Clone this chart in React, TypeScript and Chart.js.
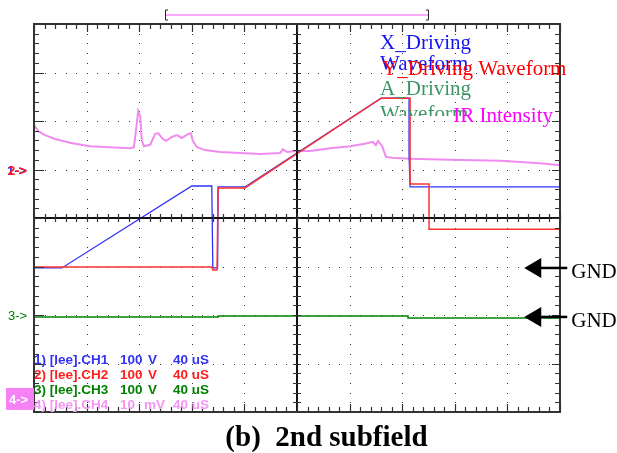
import React, { useEffect, useRef } from "react";
import { Chart, registerables } from "chart.js";

Chart.register(...registerables);

// Time axis in divisions (0..10), voltage axis in divisions (-4..4)
const X_T = [0, 0.53, 3.0, 3.38, 3.4, 3.49, 3.5, 4.01, 6.6, 7.13, 7.13, 7.15, 10];
const X_V = [-1.03, -1.03, 0.66, 0.66, -1.03, -1.03, 0.64, 0.64, 2.47, 2.47, 1.32, 0.64, 0.64];

const Y_T = [0, 3.38, 3.4, 3.48, 3.5, 4.01, 6.6, 7.15, 7.15, 7.51, 7.51, 10];
const Y_V = [-1.01, -1.01, -1.07, -1.07, 0.62, 0.62, 2.47, 2.47, 0.7, 0.7, -0.23, -0.23];

const A_T = [0, 3.5, 3.5, 7.11, 7.11, 10];
const A_V = [-2.04, -2.04, -2.02, -2.02, -2.06, -2.06];

const IR_T = [0, 0.08, 0.21, 0.4, 0.68, 1.06, 1.44, 1.83, 1.9, 1.96, 1.98, 2.02, 2.05, 2.09, 2.21, 2.3, 2.36, 2.45, 2.51, 2.62, 2.72, 2.81, 2.93, 2.98, 3.02, 3.1, 3.25, 3.54, 3.92, 4.3, 4.68, 4.73, 4.81, 5.0, 5.25, 5.63, 6.01, 6.29, 6.44, 6.5, 6.54, 6.62, 6.69, 6.81, 7.15, 7.91, 8.86, 9.62, 10];
const IR_V = [1.92, 1.79, 1.71, 1.63, 1.55, 1.48, 1.46, 1.44, 1.46, 2.0, 2.21, 2.1, 1.59, 1.48, 1.51, 1.73, 1.75, 1.63, 1.59, 1.67, 1.71, 1.65, 1.73, 1.75, 1.59, 1.46, 1.4, 1.36, 1.34, 1.32, 1.34, 1.42, 1.36, 1.38, 1.38, 1.44, 1.48, 1.53, 1.57, 1.5, 1.59, 1.48, 1.26, 1.24, 1.22, 1.2, 1.18, 1.13, 1.09];

const LEGEND_LABELS = ["X_Driving", "Waveform", "Y_Driving Waveform", "A_Driving", "Waveform", "IR Intensity"];
const CH_LABELS = [
  ["1) [lee].CH1", "100", "V", "40 uS"],
  ["2) [lee].CH2", "100", "V", "40 uS"],
  ["3) [lee].CH3", "100", "V", "40 uS"],
  ["4) [lee].CH4", "10", "mV", "40 uS"],
];
const WINDOW = [2.51, 7.49];
const GND_LEVELS = [-1.03, -2.04];
const CAPTION = "(b)  2nd subfield";

const BLUE = "rgb(50,50,245)";
const RED = "rgb(255,50,50)";
const GREEN = "rgb(0,130,0)";
const PINK = "rgb(240,140,240)";

const pts = (t: number[], v: number[]) => t.map((tt, i) => ({ x: tt, y: v[i] }));

const scopePlugin = {
  id: "scope",
  beforeDatasetsDraw(chart: any) {
    const { ctx, scales } = chart;
    const x = scales.x, y = scales.y;
    ctx.save();
    ctx.fillStyle = "#333";
    for (let i = 1; i < 10; i++) {
      if (i === 5) continue;
      const px = Math.round(x.getPixelForValue(i));
      for (let j = 0; j <= 40; j++) {
        const py = Math.round(y.getPixelForValue(-4 + j * 0.2));
        ctx.fillRect(px, py, 1, 1);
      }
    }
    for (let i = -3; i <= 3; i++) {
      if (i === 0) continue;
      const py = Math.round(y.getPixelForValue(i));
      for (let j = 0; j <= 50; j++) {
        const px = Math.round(x.getPixelForValue(j * 0.2));
        ctx.fillRect(px, py, 1, 1);
      }
    }
    ctx.restore();
  },
  afterDatasetsDraw(chart: any) {
    const { ctx, chartArea, scales } = chart;
    const { left, right, top, bottom } = chartArea;
    const x = scales.x, y = scales.y;
    ctx.save();
    // center axes
    ctx.strokeStyle = "#111";
    ctx.lineWidth = 2;
    const cy = Math.round(y.getPixelForValue(0));
    const cx = Math.round(x.getPixelForValue(5));
    ctx.beginPath();
    ctx.moveTo(left, cy); ctx.lineTo(right, cy);
    ctx.moveTo(cx, top); ctx.lineTo(cx, bottom);
    ctx.stroke();
    ctx.lineWidth = 1.2;
    ctx.beginPath();
    for (let k = 0; k <= 50; k++) {
      const px = Math.round(x.getPixelForValue(k * 0.2)) + 0.5;
      const big = k % 5 === 0;
      ctx.moveTo(px, cy - 4); ctx.lineTo(px, cy + 4);
      ctx.moveTo(px, top); ctx.lineTo(px, top + (big ? 8 : 5));
      ctx.moveTo(px, bottom); ctx.lineTo(px, bottom - (big ? 8 : 5));
    }
    for (let k = 0; k <= 40; k++) {
      const py = Math.round(y.getPixelForValue(-4 + k * 0.2)) + 0.5;
      const big = k % 5 === 0;
      ctx.moveTo(cx - 4, py); ctx.lineTo(cx + 4, py);
      ctx.moveTo(left, py); ctx.lineTo(left + (big ? 10 : 5), py);
      ctx.moveTo(right, py); ctx.lineTo(right - (big ? 8 : 5), py);
    }
    ctx.strokeStyle = "#333";
    ctx.stroke();
    // border
    ctx.lineWidth = 2;
    ctx.strokeStyle = "#333";
    ctx.strokeRect(left, top, right - left, bottom - top);

    // window bar at top
    const wx0 = x.getPixelForValue(WINDOW[0]);
    const wx1 = x.getPixelForValue(WINDOW[1]);
    const wy = top - 9;
    ctx.strokeStyle = "rgb(250,170,250)";
    ctx.lineWidth = 2;
    ctx.beginPath(); ctx.moveTo(wx0, wy); ctx.lineTo(wx1, wy); ctx.stroke();
    ctx.strokeStyle = "#222";
    ctx.lineWidth = 1;
    ctx.beginPath();
    ctx.moveTo(wx0 + 2, wy - 5); ctx.lineTo(wx0 - 0.5, wy - 5); ctx.lineTo(wx0 - 0.5, wy + 5); ctx.lineTo(wx0 + 2, wy + 5);
    ctx.moveTo(wx1 - 2, wy - 5); ctx.lineTo(wx1 + 0.5, wy - 5); ctx.lineTo(wx1 + 0.5, wy + 5); ctx.lineTo(wx1 - 2, wy + 5);
    ctx.stroke();

    // legend texts
    ctx.font = '21px "Liberation Serif"';
    ctx.textBaseline = "alphabetic";
    ctx.textAlign = "left";
    const lx = x.getPixelForValue(6.58);
    ctx.fillStyle = "rgb(20,20,240)";
    ctx.fillText(LEGEND_LABELS[0], lx, top + 25);
    ctx.fillText(LEGEND_LABELS[1], lx, top + 46);
    ctx.save();
    ctx.beginPath(); ctx.rect(0, 0, right + 11, 453); ctx.clip();
    ctx.fillStyle = "rgb(255,0,0)";
    ctx.fillText(LEGEND_LABELS[2], lx + 2, top + 51);
    ctx.restore();
    ctx.fillStyle = "rgb(60,150,100)";
    ctx.fillText(LEGEND_LABELS[3], lx, top + 71);
    ctx.save();
    ctx.beginPath(); ctx.rect(0, 0, 617, top + 92); ctx.clip();
    ctx.fillText(LEGEND_LABELS[4], lx, top + 96);
    ctx.restore();
    ctx.save();
    ctx.beginPath(); ctx.rect(0, 0, right + 2, 453); ctx.clip();
    ctx.fillStyle = "rgb(255,0,255)";
    ctx.fillText(LEGEND_LABELS[5], x.getPixelForValue(7.97), top + 98);
    ctx.restore();

    // left channel markers
    const m2 = y.getPixelForValue(1);
    ctx.font = 'bold 13px "Liberation Sans"';
    ctx.fillStyle = BLUE;
    ctx.fillText("1->", 7, m2 + 5);
    ctx.fillStyle = "rgb(255,20,20)";
    ctx.fillText("2->", 8, m2 + 5);
    const m3 = y.getPixelForValue(-2);
    ctx.font = '13px "Liberation Sans"';
    ctx.fillStyle = GREEN;
    ctx.fillText("3->", 8, m3 + 5);
    const m4 = y.getPixelForValue(-3.73);
    ctx.fillStyle = "rgb(245,130,245)";
    ctx.fillRect(6, m4 - 11, left - 6, 22);
    ctx.fillStyle = "#fff";
    ctx.font = 'bold 13px "Liberation Sans"';
    ctx.fillText("4->", 9, m4 + 5);

    // channel labels
    const chColors = [BLUE, "rgb(255,30,30)", GREEN, "rgb(245,150,245)"];
    ctx.font = 'bold 13.5px "Liberation Sans"';
    CH_LABELS.forEach((row, i) => {
      const by = 364 + i * 15;
      ctx.fillStyle = chColors[i];
      ctx.fillText(row[0], left, by);
      ctx.fillText(row[1], left + 86, by);
      ctx.fillText(row[2], row[2] === "V" ? left + 114 : left + 110, by);
      ctx.fillText(row[3], left + 139, by);
    });

    // GND arrows
    GND_LEVELS.forEach((lv) => {
      const py = y.getPixelForValue(lv);
      const tip = x.getPixelForValue(9.32);
      ctx.fillStyle = "#000";
      ctx.beginPath();
      ctx.moveTo(tip, py); ctx.lineTo(tip + 17, py - 10); ctx.lineTo(tip + 17, py + 10); ctx.closePath();
      ctx.fill();
      ctx.strokeStyle = "#000";
      ctx.lineWidth = 2.5;
      ctx.beginPath(); ctx.moveTo(tip + 15, py); ctx.lineTo(tip + 43, py); ctx.stroke();
      ctx.font = '21px "Liberation Serif"';
      ctx.fillText("GND", tip + 47, py + 10);
    });

    // caption
    ctx.fillStyle = "#000";
    ctx.font = 'bold 29px "Liberation Serif"';
    ctx.textAlign = "center";
    ctx.fillText(CAPTION, 326.5, 446);
    ctx.restore();
  },
};

export default function App() {
  const ref = useRef<HTMLCanvasElement | null>(null);
  useEffect(() => {
    if (!ref.current) return;
    const chart = new Chart(ref.current, {
      type: "scatter",
      data: {
        datasets: [
          { label: "Y", data: pts(Y_T, Y_V), borderColor: RED, borderWidth: 1.5, showLine: true, pointRadius: 0, order: 0 },
          { label: "X", data: pts(X_T, X_V), borderColor: BLUE, borderWidth: 1.3, showLine: true, pointRadius: 0, order: 1 },
          { label: "A", data: pts(A_T, A_V), borderColor: GREEN, borderWidth: 1.5, showLine: true, pointRadius: 0, order: 2 },
          { label: "IR", data: pts(IR_T, IR_V), borderColor: PINK, borderWidth: 2, showLine: true, pointRadius: 0, order: 3 },
        ],
      },
      options: {
        animation: false,
        responsive: false,
        devicePixelRatio: 1,
        layout: { padding: { left: 34, top: 24, right: 57, bottom: 41 } },
        scales: {
          x: { type: "linear", min: 0, max: 10, display: false },
          y: { type: "linear", min: -4, max: 4, display: false },
        },
        plugins: { legend: { display: false }, tooltip: { enabled: false } },
      },
      plugins: [scopePlugin],
    });
    return () => chart.destroy();
  }, []);
  return (
    <div style={{ position: "fixed", left: 0, top: 0, width: 617, height: 453, background: "#fff" }}>
      <canvas ref={ref} width={617} height={453} style={{ width: 617, height: 453, display: "block" }} />
    </div>
  );
}
